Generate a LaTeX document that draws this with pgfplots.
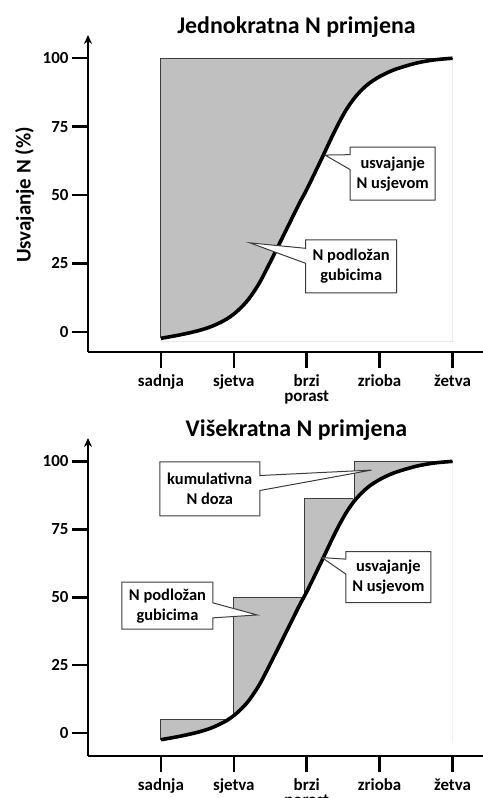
\documentclass[border=0pt]{standalone}
\usepackage{fontspec}
\setmainfont{Carlito}
\usepackage{pgfplots}
\usepackage{pgfplotstable}
\pgfplotsset{compat=1.18}
\usepgfplotslibrary{fillbetween}
\usetikzlibrary{shapes.callouts, arrows.meta}
\definecolor{nfill}{RGB}{192,192,192}
\definecolor{boxline}{RGB}{60,60,60}

\pgfplotstableread{
x y
0 -2.4
0.25 -1.2
0.5 0.3
0.7 2.0
0.9 4.6
1.05 7.6
1.2 11.8
1.35 17.8
1.5 25.5
1.7 36.2
1.9 47
2.0 52
2.2 63
2.35 71.5
2.45 76.8
2.55 81.5
2.65 85.3
2.75 88.3
2.85 90.7
3.0 93.3
3.2 95.8
3.5 98.2
3.75 99.4
4 100
}\curvedata

\pgfplotsset{
  npanel/.style={
    scale only axis, width=395bp,
    xmin=-1, xmax=4.418,
    axis x line=bottom, axis y line=left,
    x axis line style={-, line width=2.5bp},
    y axis line style={-{Stealth[length=9bp,width=8bp]}, line width=2.5bp},
    xtick={0,1,2,3,4},
    xticklabels={sadnja, sjetva, {brzi\\porast}, zrioba, žetva},
    ytick={0,25,50,75,100},
    tick align=outside, major tick length=16bp,
    tick style={black, line width=2.5bp},
    xticklabel style={align=center, font=\fontsize{17}{15.5}\selectfont\bfseries, yshift=-3bp},
    yticklabel style={font=\fontsize{17}{17}\selectfont\bfseries, /pgf/number format/assume math mode=true},
    clip=false,
  },
  stepline/.style={draw=boxline, line width=1bp},
  curvestyle/.style={black, line width=3.6bp, smooth},
}
\tikzset{
  callbox/.style={rectangle callout, draw=boxline, line width=1bp, fill=white, align=center,
    font=\fontsize{16.5}{20}\selectfont\bfseries, inner sep=2bp, callout pointer width=15bp},
}

\begin{document}
\begin{tikzpicture}
% ---------------- top panel ----------------
\begin{axis}[npanel, at={(88bp,446bp)}, anchor=south west, height=317bp, ymin=-7.4, ymax=108.5]
  \addplot[name path=base, draw=none, forget plot] coordinates {(0,-3.6) (4,-3.6)};
  \addplot[name path=curve, draw=none, smooth, forget plot] table {\curvedata};
  \addplot[name path=step, draw=none, forget plot] coordinates {(0,100) (4,100)};
  \addplot[fill=nfill, draw=none] fill between[of=step and base];
  \addplot[fill=white, draw=none] fill between[of=curve and base];
  \addplot[stepline] coordinates {(0,-2.4) (0,100) (4,100)};
  \addplot[curvestyle] table {\curvedata};
  \node[font=\fontsize{24}{24}\selectfont\bfseries] at (axis cs:1.86,111.2) {Jednokratna N primjena};
  \node[rotate=90, font=\fontsize{21}{21}\selectfont\bfseries] at (axis cs:-1.87,50) {Usvajanje N (\%)};
  \node[callbox, minimum width=85bp, minimum height=53bp, callout absolute pointer={(axis cs:2.25,64.6)}] at (axis cs:3.18,57.8) {usvajanje\\N usjevom};
  \node[callbox, minimum width=91bp, minimum height=53bp, callout absolute pointer={(axis cs:1.22,32.5)}] at (axis cs:2.61,23.9) {N podložan\\gubicima};
\end{axis}
% ---------------- bottom panel ----------------
\begin{axis}[npanel, at={(88bp,42bp)}, anchor=south west, height=318bp, ymin=-8.4, ymax=108.6]
  \addplot[name path=base, draw=none, forget plot] coordinates {(0,-3.6) (4,-3.6)};
  \addplot[name path=curve, draw=none, smooth, forget plot] table {\curvedata};
  \addplot[name path=step, draw=none, forget plot] coordinates {(0,5.05) (0.99,5.05) (0.99,50) (1.966,50) (1.966,86.3) (2.65,86.3) (2.65,100) (4,100)};
  \addplot[fill=nfill, draw=none] fill between[of=step and base];
  \addplot[fill=white, draw=none] fill between[of=curve and base];
  \addplot[stepline] coordinates {(0,-2.4) (0,5.05) (0.92,5.05)};
  \addplot[stepline] coordinates {(0.99,6) (0.99,50) (1.95,50)};
  \addplot[stepline] coordinates {(1.966,51) (1.966,86.3) (2.63,86.3)};
  \addplot[stepline] coordinates {(2.65,86) (2.65,100) (4,100)};
  \addplot[curvestyle] table {\curvedata};
  \node[font=\fontsize{24}{24}\selectfont\bfseries] at (axis cs:1.86,111.4) {Višekratna N primjena};
  \node[callbox, minimum width=100bp, minimum height=54bp, callout absolute pointer={(axis cs:2.89,96.8)}] at (axis cs:0.67,89.9) {kumulativna\\N doza};
  \node[callbox, minimum width=91bp, minimum height=47bp, callout absolute pointer={(axis cs:1.32,43.5)}] at (axis cs:0.09,46.9) {N podložan\\gubicima};
  \node[callbox, minimum width=85bp, minimum height=51bp, callout absolute pointer={(axis cs:2.21,64.6)}] at (axis cs:3.12,57.4) {usvajanje\\N usjevom};
\end{axis}
\pgfresetboundingbox
\path[use as bounding box] (0,0) rectangle (483bp,798bp);
\end{tikzpicture}
\end{document}
